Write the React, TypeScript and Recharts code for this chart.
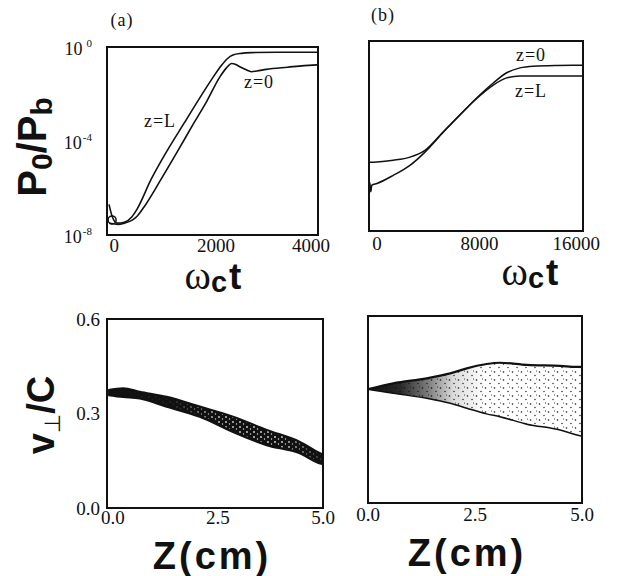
import React from "react";
import {
  ComposedChart,
  Line,
  Area,
  XAxis,
  YAxis,
  ReferenceArea,
  ReferenceDot,
} from "recharts";

// (a) P0/Pb vs omega_c t, short run
const tA_L = [-100, -40, 60, 200, 350, 450, 720, 1050, 1370, 1690, 1950, 2100, 2220, 2330, 2500, 2700, 3200, 4000];
const pA_L = [2.0e-7, 6.3e-8, 3.2e-8, 3.5e-8, 6.0e-8, 1.26e-7, 2.2e-6, 4.2e-5, 5.6e-4, 7.4e-3, 5.5e-2, 0.158, 0.316, 0.457, 0.537, 0.575, 0.6, 0.6];
const tA_0 = [-100, -20, 80, 200, 363, 450, 590, 913, 1240, 1560, 1820, 2078, 2200, 2304, 2400, 2466, 2580, 2692, 2800, 2984, 3400, 3890, 4000];
const pA_0 = [3.2e-8, 3.0e-8, 2.8e-8, 3.2e-8, 4.4e-8, 6.3e-8, 1.6e-7, 2.2e-6, 3.5e-5, 5.6e-4, 5.0e-3, 5.5e-2, 0.126, 0.2, 0.174, 0.145, 0.11, 0.089, 0.095, 0.112, 0.138, 0.17, 0.174];
const loopT = -40;
const loopP = 4.4e-8;

// (b) P0/Pb vs omega_c t, long run
const tB_0 = [-620, 0, 1273, 2576, 3747, 5178, 6479, 7783, 9078, 10125, 11163, 12201, 14000, 16080];
const pB_0 = [7.9e-6, 8.1e-6, 9.5e-6, 1.29e-5, 2.5e-5, 1.5e-4, 7.8e-4, 4.0e-3, 1.7e-2, 4.6e-2, 7.4e-2, 8.7e-2, 9.3e-2, 9.5e-2];
const tB_L = [-620, -560, -480, -400, 0, 1273, 2576, 3747, 5178, 6479, 7783, 9078, 10125, 11163, 12201, 14000, 16080];
const pB_L = [3.0e-7, 1.1e-6, 4.5e-7, 8.5e-7, 1.0e-6, 2.2e-6, 5.8e-6, 2.1e-5, 1.45e-4, 7.6e-4, 3.8e-3, 1.4e-2, 2.8e-2, 3.4e-2, 3.4e-2, 3.4e-2, 3.4e-2];

// (c) v_perp/c band along z
const zC = [-0.11, 0.245, 0.64, 1.28, 2.07, 2.86, 3.66, 4.45, 4.93, 5.0];
const upperC = [0.375, 0.38, 0.369, 0.353, 0.322, 0.29, 0.248, 0.21, 0.174, 0.17];
const lowerC = [0.359, 0.353, 0.348, 0.322, 0.29, 0.242, 0.2, 0.174, 0.142, 0.14];

// (d) v_perp/c band along z
const zD = [0.0, 0.59, 1.37, 1.92, 2.31, 2.77, 3.08, 3.71, 4.49, 4.88, 5.0];
const upperD = [0.365, 0.384, 0.4, 0.416, 0.432, 0.446, 0.45, 0.443, 0.44, 0.437, 0.437];
const lowerD = [0.365, 0.352, 0.336, 0.32, 0.304, 0.286, 0.277, 0.253, 0.234, 0.218, 0.214];

const powTicks = [1e-8, 1e-4, 1];
const tTicksA = [0, 2000, 4000];
const tTicksB = [0, 8000, 16000];
const zTicks = [0, 2.5, 5];
const vTicks = [0, 0.3, 0.6];

const INK = "#111";
const SERIF = "'Liberation Serif', 'Times New Roman', serif";
const SANS = "'Liberation Sans', Arial, sans-serif";
const tickStyle = { fill: INK, fontSize: 19, fontFamily: SERIF };

const rowsA_L = tA_L.map((t, i) => ({ t, p: pA_L[i] }));
const rowsA_0 = tA_0.map((t, i) => ({ t, p: pA_0[i] }));
const rowsB_L = tB_L.map((t, i) => ({ t, p: pB_L[i] }));
const rowsB_0 = tB_0.map((t, i) => ({ t, p: pB_0[i] }));
const rowsC = zC.map((z, i) => ({ z, hi: upperC[i], lo: lowerC[i], band: [lowerC[i], upperC[i]] }));
const rowsD = zD.map((z, i) => ({ z, hi: upperD[i], lo: lowerD[i], band: [lowerD[i], upperD[i]] }));

function PowTick({ x, y, payload }: any) {
  const e = Math.round(Math.log10(payload.value));
  return (
    <text x={x} y={y} textAnchor="end" fill={INK} fontFamily={SERIF} fontSize={18}>
      <tspan dy="0.45em">10</tspan>
      <tspan dx={e === 0 ? 4 : 1} dy="-0.75em" fontSize={11}>
        {String(e)}
      </tspan>
    </text>
  );
}

function Txt({ x, y, rotate, style, children }: any) {
  return (
    <div
      style={{
        position: "absolute",
        left: x,
        top: y,
        transform: `translate(-50%, -50%)${rotate ? ` rotate(${rotate}deg)` : ""}`,
        whiteSpace: "nowrap",
        lineHeight: 1,
        color: INK,
        ...style,
      }}
    >
      {children}
    </div>
  );
}

const bigSans = { fontFamily: SANS, fontWeight: 700, fontSize: 40 };
const small = { fontFamily: SERIF, fontSize: 18, letterSpacing: 1 };

function OmegaT({ x, y }: any) {
  return (
    <Txt x={x} y={y} style={{ lineHeight: 0.7 }}>
      <span style={{ fontFamily: SERIF, fontSize: 40 }}>ω</span>
      <span style={{ fontFamily: SANS, fontWeight: 700, fontSize: 29, position: "relative", top: 3 }}>c</span>
      <span style={{ fontFamily: SANS, fontWeight: 700, fontSize: 37, marginLeft: 2 }}>t</span>
    </Txt>
  );
}

function ZLabel({ x, y }: any) {
  return (
    <Txt x={x} y={y} style={{ ...bigSans, fontSize: 38, letterSpacing: 3 }}>
      Z(cm)
    </Txt>
  );
}

export default function App() {
  return (
    <div style={{ position: "absolute", left: 0, top: 0, width: 618, height: 576, background: "#fff", overflow: "hidden" }}>
      {/* (a) */}
      <div style={{ position: "absolute", left: 0, top: 0 }}>
        <ComposedChart width={330} height={290} margin={{ top: 47, right: 12, left: 0, bottom: 0 }}>
          <XAxis type="number" dataKey="t" domain={[-140, 4000]} ticks={tTicksA} allowDataOverflow
            height={55} tickSize={0} tickMargin={4} tickLine={false} axisLine={false} tick={tickStyle} />
          <YAxis type="number" scale="log" domain={[1e-8, 1]} ticks={powTicks} allowDataOverflow
            width={107} tickSize={0} tickMargin={15} tickLine={false} axisLine={false} tick={<PowTick />} />
          <Line data={rowsA_L} dataKey="p" type="monotone" stroke={INK} strokeWidth={1.6} dot={false} isAnimationActive={false} />
          <Line data={rowsA_0} dataKey="p" type="monotone" stroke={INK} strokeWidth={1.6} dot={false} isAnimationActive={false} />
          <ReferenceDot x={loopT} y={loopP} r={4} fill="none" stroke={INK} strokeWidth={1.5} />
          <ReferenceArea x1={-140} x2={4000} y1={1e-8} y2={1} fill="none" stroke={INK} strokeWidth={2} />
        </ComposedChart>
      </div>

      {/* (b) */}
      <div style={{ position: "absolute", left: 340, top: 0 }}>
        <ComposedChart width={260} height={290} margin={{ top: 41, right: 17, left: 0, bottom: 0 }}>
          <XAxis type="number" dataKey="t" domain={[-620, 16080]} ticks={tTicksB} allowDataOverflow
            height={59} tickSize={0} tickMargin={6} tickLine={false} axisLine={false} tick={tickStyle} />
          <YAxis type="number" scale="log" domain={[1e-8, 1]} ticks={powTicks} allowDataOverflow
            width={29} tick={false} tickLine={false} axisLine={false} />
          <Line data={rowsB_0} dataKey="p" type="monotone" stroke={INK} strokeWidth={1.5} dot={false} isAnimationActive={false} />
          <Line data={rowsB_L} dataKey="p" type="monotone" stroke={INK} strokeWidth={1.5} dot={false} isAnimationActive={false} />
          <ReferenceArea x1={-620} x2={16080} y1={1e-8} y2={1} fill="none" stroke={INK} strokeWidth={2} />
        </ComposedChart>
      </div>

      {/* (c) */}
      <div style={{ position: "absolute", left: 0, top: 290 }}>
        <ComposedChart width={340} height={250} data={rowsC} margin={{ top: 29, right: 17, left: 0, bottom: 0 }}>
          <defs>
            <pattern id="speckleC" width="7" height="5" patternUnits="userSpaceOnUse">
              <rect width="7" height="5" fill={INK} />
              <circle cx="2" cy="2" r="0.9" fill="#fff" />
              <circle cx="5.5" cy="4" r="0.7" fill="#fff" />
            </pattern>
            <linearGradient id="solidC" x1="0" y1="0" x2="1" y2="0">
              <stop offset="0%" stopColor={INK} stopOpacity={1} />
              <stop offset="30%" stopColor={INK} stopOpacity={0.9} />
              <stop offset="50%" stopColor={INK} stopOpacity={0.2} />
              <stop offset="80%" stopColor={INK} stopOpacity={0.1} />
              <stop offset="100%" stopColor={INK} stopOpacity={0.8} />
            </linearGradient>
          </defs>
          <XAxis type="number" dataKey="z" domain={[-0.14, 5]} ticks={zTicks} allowDataOverflow
            height={32} tickSize={0} tickMargin={3} tickLine={false} axisLine={false} tick={tickStyle}
            tickFormatter={(v) => v.toFixed(1)} />
          <YAxis type="number" domain={[0, 0.6]} ticks={vTicks} allowDataOverflow
            width={107} tickSize={0} tickMargin={7} tickLine={false} axisLine={false} tick={tickStyle}
            tickFormatter={(v) => v.toFixed(1)} />
          <Area dataKey="band" type="monotone" stroke="none" fill="url(#speckleC)" fillOpacity={1} isAnimationActive={false} />
          <Area dataKey="band" type="monotone" stroke="none" fill="url(#solidC)" fillOpacity={1} isAnimationActive={false} />
          <Line dataKey="hi" type="monotone" stroke={INK} strokeWidth={2} dot={false} isAnimationActive={false} />
          <Line dataKey="lo" type="monotone" stroke={INK} strokeWidth={2.5} dot={false} isAnimationActive={false} />
          <ReferenceArea x1={-0.14} x2={5} y1={0} y2={0.6} fill="none" stroke={INK} strokeWidth={2} />
        </ComposedChart>
      </div>

      {/* (d) */}
      <div style={{ position: "absolute", left: 340, top: 290 }}>
        <ComposedChart width={260} height={250} data={rowsD} margin={{ top: 26, right: 18, left: 0, bottom: 0 }}>
          <defs>
            <pattern id="stippleD" width="9" height="8" patternUnits="userSpaceOnUse">
              <circle cx="1.5" cy="2" r="0.8" fill={INK} />
              <circle cx="6" cy="5.5" r="0.7" fill={INK} />
              <circle cx="7.5" cy="1" r="0.5" fill={INK} />
            </pattern>
            <linearGradient id="darkD" x1="0" y1="0" x2="1" y2="0">
              <stop offset="0%" stopColor={INK} stopOpacity={1} />
              <stop offset="15%" stopColor={INK} stopOpacity={0.9} />
              <stop offset="28%" stopColor={INK} stopOpacity={0.55} />
              <stop offset="40%" stopColor={INK} stopOpacity={0.15} />
              <stop offset="55%" stopColor={INK} stopOpacity={0} />
            </linearGradient>
          </defs>
          <XAxis type="number" dataKey="z" domain={[0, 5]} ticks={zTicks} allowDataOverflow
            height={37} tickSize={0} tickMargin={5} tickLine={false} axisLine={false} tick={tickStyle}
            tickFormatter={(v) => v.toFixed(1)} />
          <YAxis type="number" domain={[0, 0.6]} ticks={vTicks} allowDataOverflow
            width={28} tick={false} tickLine={false} axisLine={false} />
          <Area dataKey="band" type="monotone" stroke="none" fill="url(#stippleD)" fillOpacity={1} isAnimationActive={false} />
          <Area dataKey="band" type="monotone" stroke="none" fill="url(#darkD)" fillOpacity={1} isAnimationActive={false} />
          <Line dataKey="hi" type="monotone" stroke={INK} strokeWidth={2.2} dot={false} isAnimationActive={false} />
          <Line dataKey="lo" type="monotone" stroke={INK} strokeWidth={1.5} dot={false} isAnimationActive={false} />
          <ReferenceArea x1={0} x2={5} y1={0} y2={0.6} fill="none" stroke={INK} strokeWidth={2} />
        </ComposedChart>
      </div>

      {/* labels */}
      <Txt x={122} y={20} style={small}>(a)</Txt>
      <Txt x={383} y={15} style={small}>(b)</Txt>
      <Txt x={160} y={121} style={small}>z=L</Txt>
      <Txt x={259} y={82} style={small}>z=0</Txt>
      <Txt x={531} y={55} style={small}>z=0</Txt>
      <Txt x={531} y={91} style={small}>z=L</Txt>

      <Txt x={32} y={147} rotate={-90} style={bigSans}>
        P<span style={{ fontSize: 30, position: "relative", top: 6 }}>0</span>/P
        <span style={{ fontSize: 30, position: "relative", top: 6 }}>b</span>
      </Txt>
      <Txt x={41} y={415} rotate={-90} style={{ ...bigSans, fontSize: 38 }}>
        v<span style={{ fontFamily: "'DejaVu Sans', sans-serif", fontWeight: 400, fontSize: 22, position: "relative", top: 6 }}>⊥</span>/C
      </Txt>

      <OmegaT x={213} y={276} />
      <OmegaT x={530} y={272} />
      <ZLabel x={212} y={556} />
      <ZLabel x={467} y={553} />
    </div>
  );
}
